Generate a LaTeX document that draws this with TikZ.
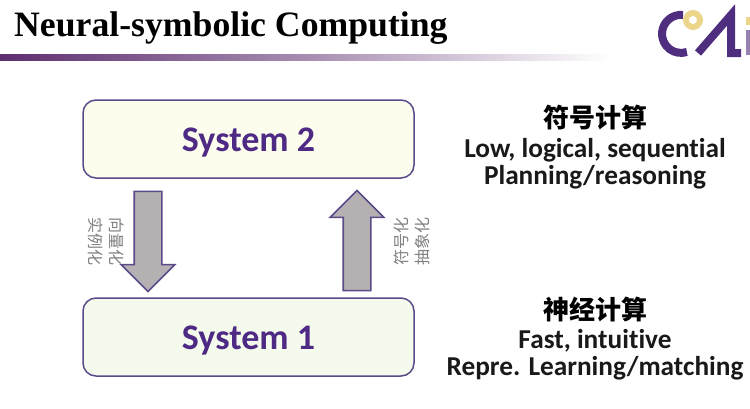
\documentclass[tikz,border=0pt]{standalone}
\usepackage{fontspec}
\usepackage{tikz}
\usetikzlibrary{shapes.arrows}
\setmainfont[Ligatures=NoCommon]{Carlito}
\newfontfamily\titlefont{Liberation Serif}
\newfontfamily\cjk{Noto Sans CJK SC}
\definecolor{sysline}{HTML}{5B4A8A}
\definecolor{systext}{HTML}{4E2A84}
\definecolor{barpurple}{HTML}{5E2F70}
\definecolor{logopurple}{HTML}{4F2D7F}
\definecolor{logogold}{HTML}{EBD68C}
\definecolor{arrowgray}{HTML}{B5B0B2}
\definecolor{sysyellow}{HTML}{FDFDEE}
\definecolor{sysgreen}{HTML}{F5FBEC}
\tikzset{sysbox/.style = {draw = sysline, line width = 1.5, rounded corners = 13, minimum width = 331, minimum height = 78, text height = 32, text depth = 7, font = \fontsize{36}{36}\selectfont\bfseries, text = systext}}
\tikzset{blockarrow/.style = {draw = sysline, line width = 1.6, fill = arrowgray, single arrow, minimum height = 100, minimum width = 52, inner sep = 13, single arrow head extend = 13, single arrow head indent = 0}}
\tikzset{sidehead/.style = {font = \fontsize{26}{26}\selectfont\cjk\bfseries}}
\tikzset{sideline/.style = {font = \fontsize{27.3}{27.3}\selectfont\bfseries, text = black!90}}
\tikzset{tinylabel/.style = {font = \fontsize{16}{21}\selectfont\cjk, text = black!50, align = center}}

\begin{document}
\begin{tikzpicture}[x=1pt, y=-1pt]
      \useasboundingbox (0, 0) rectangle (750, 408);
      \clip (0, 0) rectangle (750, 408);
      \fill [white] (0, 0) rectangle (750, 408);

      \node [anchor=west, inner sep=0, font=\fontsize{35.7}{35.7}\selectfont\titlefont\bfseries] at (14, 28.5) (title) {Neural-symbolic Computing};
      \shade [left color=barpurple, right color=white, middle color=barpurple!55] (0, 54) rectangle (610, 60);

      % logo
      \draw [logopurple, line width=8] (683, 15) arc [start angle=-84, end angle=-288, radius=19];
      \fill [logogold] (693, 20) circle (10);
      \fill [white] (693, 20) circle (4);
      \draw [logopurple, line width=8] (698, 53) -- (731, 15) -- (731, 53) -- (741, 53);
      \fill [logopurple!60] (746, 30) rectangle (750, 55);
      \fill [logogold] (746, 17) rectangle (750, 25);

      \node [sysbox, fill=sysyellow] at (248.5, 139) (system2) {System 2};
      \node [sysbox, fill=sysgreen] at (248.5, 337) (system1) {System 1};

      \node [blockarrow, shape border rotate=270] at (148, 234.5) (down) {};
      \node [blockarrow, shape border rotate=90] at (357, 247.5) (up) {};

      \node [tinylabel, rotate=-90] at (106, 241) (downlabel) {向量化\\实例化};
      \node [tinylabel, rotate=90] at (412, 241) (uplabel) {符号化\\抽象化};

      \node [sidehead] at (595, 118) (head2) {符号计算};
      \node [sideline] at (595, 150) (line2a) {Low, logical, sequential};
      \node [sideline] at (595, 177) (line2b) {Planning/reasoning};

      \node [sidehead] at (595, 310) (head1) {神经计算};
      \node [sideline] at (595, 341) (line1a) {Fast, intuitive};
      \node [sideline] at (595, 368) (line1b) {Repre. Learning/matching};
    \end{tikzpicture}
\end{document}
